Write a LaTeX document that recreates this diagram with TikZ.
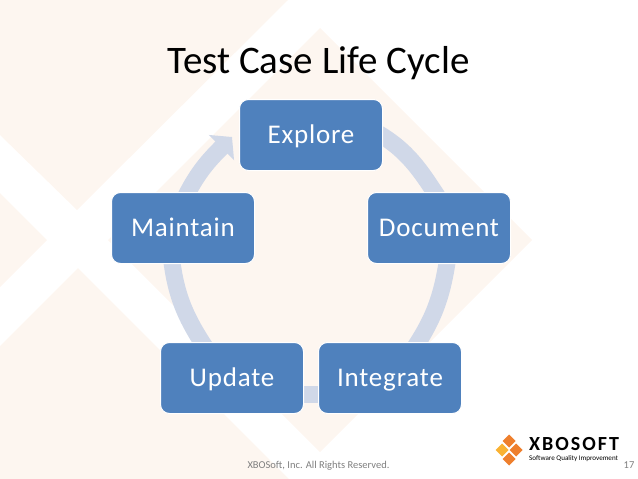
\documentclass[tikz,border=0pt]{standalone}
\usepackage{fontspec}
\setmainfont{Carlito}
\usetikzlibrary{arrows.meta,backgrounds}
\definecolor{peach}{HTML}{FDF6F0}
\definecolor{boxblue}{HTML}{4F81BD}
\definecolor{ringblue}{HTML}{D0D8E8}
\definecolor{footgray}{HTML}{7F7F7F}
\definecolor{logoorange}{HTML}{EE7F2D}
\definecolor{logoyellow}{HTML}{F9B233}
\tikzset{
    stagebox/.style={draw=white, line width=1pt, fill=boxblue, rounded corners=9pt,
        minimum width=143pt, minimum height=71pt, inner sep=0pt, text=white,
        text height=16pt, text depth=0pt, font=\fontsize{27}{30}\addfontfeature{LetterSpace=3}\selectfont},
    cyclelink/.style={draw=ringblue, line width=17pt},
    footnote/.style={text=footgray, anchor=base, inner sep=0pt, font=\fontsize{10.5}{12}\selectfont}
}

\begin{document}
\begin{tikzpicture}[x=1pt, y=-1pt]
    \useasboundingbox (0,0) rectangle (638,479);

    % Stage boxes
    \node[stagebox] (explore) at (311,135) {Explore};
    \node[stagebox] (document) at (439,228) {Document};
    \node[stagebox] (integrate) at (390,378) {Integrate};
    \node[stagebox] (update) at (232,378) {Update};
    \node[stagebox] (maintain) at (183,228) {Maintain};

    % Title and footer
    \node[anchor=base, inner sep=0pt, font=\fontsize{39}{42}\selectfont] (title) at (318.5,73) {Test Case Life Cycle};
    \node[footnote] (rights) at (318.5,468) {XBOSoft, Inc. All Rights Reserved.};
    \node[footnote] (pagenum) at (629,468) {17};

    % Logo
    \foreach \x/\y/\c in {509/441/logoorange, 502/450/logoyellow, 516/450/logoorange, 509/459/logoorange} {
        \fill[\c] (\x,\y-6.5) -- (\x+6.5,\y) -- (\x,\y+6.5) -- (\x-6.5,\y) -- cycle;
    }
    \node[anchor=base west, inner sep=0pt, font=\fontsize{20}{22}\bfseries\addfontfeature{LetterSpace=10}\selectfont] (logoname) at (529,450.5) {XBOSOFT};
    \node[anchor=base west, inner sep=0pt, font=\fontsize{7.1}{8}\selectfont] (logotag) at (529,460.5) {Software Quality Improvement};

    \begin{scope}[on background layer]
        % Pale diamonds behind everything
        \fill[peach] (0,0) -- (288,0) -- (77,210) -- (0,135) -- cycle;
        \fill[peach] (0,193) -- (47,240) -- (0,287) -- cycle;
        \fill[peach] (0,346) -- (78,268) -- (289,479) -- (0,479) -- cycle;
        \fill[peach] (320,28) -- (532,240) -- (320,452) -- (108,240) -- cycle;

        % Ring pieces between the boxes
        \draw[cyclelink] ([xshift=-9pt,yshift=4pt]explore.east) to[out=-29, in=123] ([xshift=2pt,yshift=-10pt]document.north);
        \draw[cyclelink] ([xshift=9.5pt,yshift=11pt]document.south) to[out=-98, in=56] ([xshift=23pt,yshift=-8pt]integrate.north);
        \draw[cyclelink] ([xshift=5pt,yshift=-16pt]integrate.west) -- ([xshift=-5pt,yshift=-16pt]update.east);
        \draw[cyclelink] ([xshift=-24.3pt,yshift=-9pt]update.north) to[out=124, in=-84] ([xshift=-12pt,yshift=10pt]maintain.south);
        \draw[cyclelink, -{Triangle[width=35pt, length=15pt]}] ([yshift=-10pt]maintain.north) to[out=65, in=225] ([xshift=-7pt,yshift=-2pt]explore.west);
    \end{scope}
\end{tikzpicture}
\end{document}
